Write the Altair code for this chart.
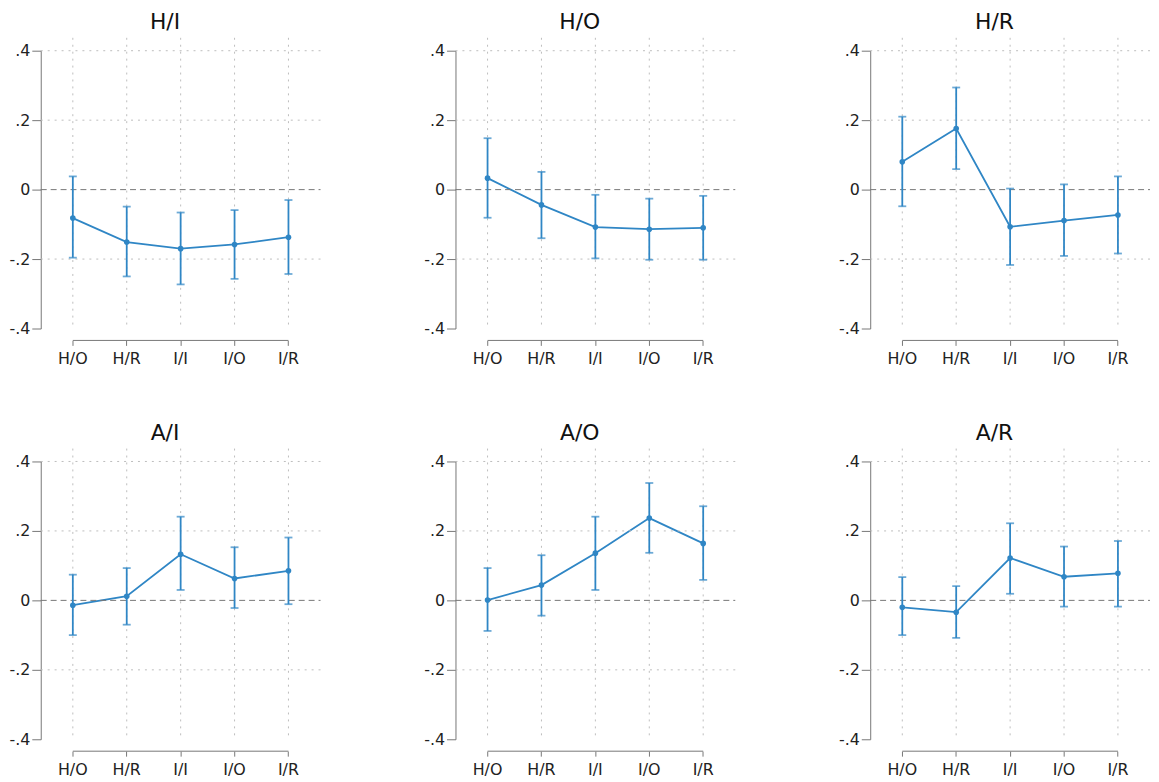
import altair as alt
import pandas as pd

categories = ["H/O", "H/R", "I/I", "I/O", "I/R"]
panels = ["H/I", "H/O", "H/R", "A/I", "A/O", "A/R"]

est_HI = [-0.082, -0.151, -0.170, -0.158, -0.137]
lo_HI = [-0.196, -0.250, -0.273, -0.257, -0.243]
hi_HI = [0.038, -0.049, -0.066, -0.059, -0.030]

est_HO = [0.033, -0.044, -0.108, -0.114, -0.110]
lo_HO = [-0.081, -0.140, -0.198, -0.202, -0.202]
hi_HO = [0.148, 0.051, -0.015, -0.026, -0.018]

est_HR = [0.080, 0.176, -0.107, -0.089, -0.073]
lo_HR = [-0.048, 0.059, -0.217, -0.191, -0.184]
hi_HR = [0.210, 0.294, 0.003, 0.015, 0.038]

est_AI = [-0.014, 0.012, 0.133, 0.063, 0.085]
lo_AI = [-0.100, -0.070, 0.030, -0.022, -0.011]
hi_AI = [0.074, 0.093, 0.241, 0.153, 0.181]

est_AO = [0.001, 0.044, 0.136, 0.237, 0.164]
lo_AO = [-0.088, -0.044, 0.030, 0.137, 0.059]
hi_AO = [0.093, 0.130, 0.241, 0.338, 0.271]

est_AR = [-0.020, -0.034, 0.122, 0.068, 0.078]
lo_AR = [-0.100, -0.108, 0.019, -0.018, -0.018]
hi_AR = [0.067, 0.041, 0.222, 0.155, 0.171]

y_ticks = [-0.4, -0.2, 0, 0.2, 0.4]
grid_vals = [0.4, 0.2, -0.2]

series = {
    "H/I": (est_HI, lo_HI, hi_HI),
    "H/O": (est_HO, lo_HO, hi_HO),
    "H/R": (est_HR, lo_HR, hi_HR),
    "A/I": (est_AI, lo_AI, hi_AI),
    "A/O": (est_AO, lo_AO, hi_AO),
    "A/R": (est_AR, lo_AR, hi_AR),
}

W, H = 282, 280
BLUE = "#2f86c5"
FONT = "DejaVu Sans"

xscale = alt.Scale(domain=categories, padding=0.19)
yscale = alt.Scale(domain=[-0.4, 0.4], nice=False, zero=False)

label_expr = ("datum.value == 0 ? '0' : (datum.value < 0 ? '-' : '') + "
              "replace(format(abs(datum.value), '.1f'), '0.', '.')")

x_axis = alt.Axis(title=None, domain=False, ticks=True, tickSize=5,
                  tickColor="#777", tickWidth=1, offset=12,
                  labelAngle=0, labelPadding=5, grid=False,
                  labelFont=FONT, labelFontSize=16, labelColor="#222")
y_axis = alt.Axis(title=None, values=y_ticks, labelExpr=label_expr,
                  domain=True, domainColor="#777", ticks=True, tickSize=9,
                  tickColor="#777", grid=False, labelPadding=2,
                  labelFont=FONT, labelFontSize=16, labelColor="#222")


def X(field):
    return alt.X(field, scale=xscale, sort=categories, axis=x_axis)


def Y(field):
    return alt.Y(field, scale=yscale, axis=y_axis)


def panel(name):
    est, lo, hi = series[name]
    df = pd.DataFrame({"cat": categories, "est": est, "lo": lo, "hi": hi})
    base = alt.Chart(df)

    line = base.mark_line(color=BLUE, strokeWidth=1.8).encode(x=X("cat:N"), y=Y("est:Q"))

    vgrid = base.mark_rule(color="#bdbdbd", strokeDash=[2, 5], strokeWidth=1).encode(
        x=X("cat:N"), y=alt.value(-13), y2=alt.value(H - 2))

    hgrid = alt.Chart(pd.DataFrame({"est": grid_vals})).mark_rule(
        color="#bdbdbd", strokeDash=[2, 5], strokeWidth=1).encode(
        y=Y("est:Q"), x=alt.value(0), x2=alt.value(W))

    zero = alt.Chart(pd.DataFrame({"est": [0]})).mark_rule(
        color="#777", strokeDash=[6, 4], strokeWidth=1).encode(
        y=Y("est:Q"), x=alt.value(0), x2=alt.value(W))

    xline = alt.Chart(pd.DataFrame({"cat": [categories[0]], "cat2": [categories[-1]]})).mark_rule(
        color="#777", strokeWidth=1).encode(
        x=X("cat:N"), x2="cat2:N", y=alt.value(H + 12))

    err = base.mark_rule(color=BLUE, strokeWidth=1.8).encode(
        x=X("cat:N"), y=Y("lo:Q"), y2="hi:Q")
    cap_lo = base.mark_tick(color=BLUE, thickness=1.8, size=8, orient="horizontal").encode(
        x=X("cat:N"), y=Y("lo:Q"))
    cap_hi = base.mark_tick(color=BLUE, thickness=1.8, size=8, orient="horizontal").encode(
        x=X("cat:N"), y=Y("hi:Q"))
    pts = base.mark_point(color=BLUE, filled=True, size=32, opacity=1).encode(
        x=X("cat:N"), y=Y("est:Q"))

    return alt.layer(line, vgrid, hgrid, zero, xline, err, cap_lo, cap_hi, pts).properties(
        width=W, height=H,
        title=alt.Title(name, fontSize=22, font=FONT, fontWeight="normal", color="#111",
                        anchor="middle", frame="bounds", offset=3))


chart = alt.concat(*[panel(p) for p in panels], columns=3,
                   spacing=alt.RowColnumber(row=56, column=102)).configure_view(
    stroke=None).properties(
    background="white", padding={"left": 0, "top": 0, "right": 0, "bottom": 0})

chart.save("out.html", embed_options={"renderer": "svg", "actions": False})
